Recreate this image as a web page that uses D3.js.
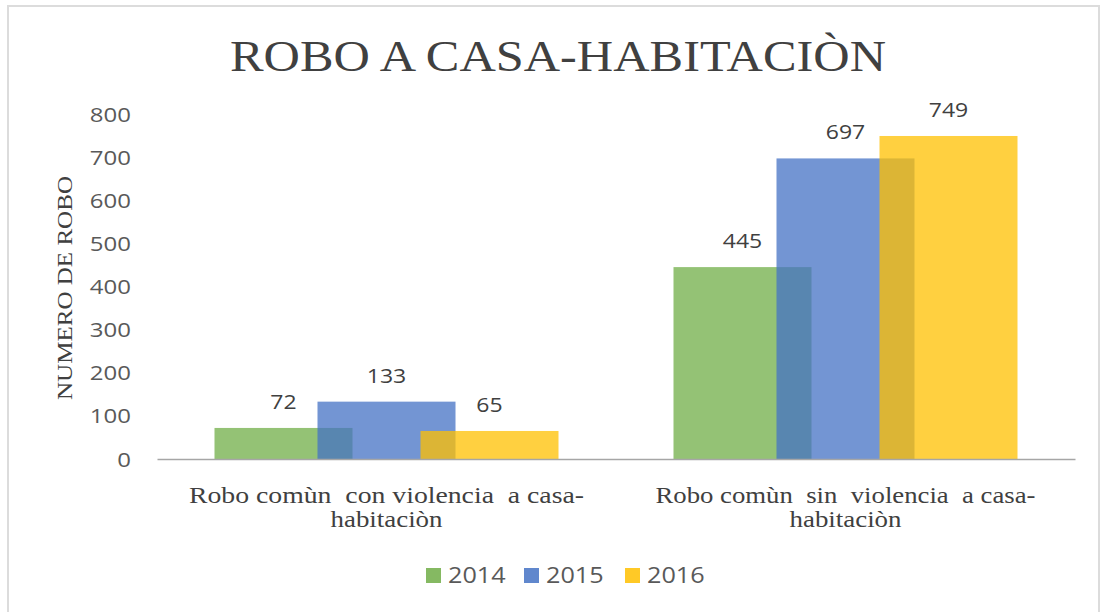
<!DOCTYPE html>
<html><head><meta charset="utf-8">
<script src="https://cdn.jsdelivr.net/npm/d3@7/dist/d3.min.js"></script>
<style>html,body{margin:0;padding:0;background:#fff;}svg{display:block;}</style>
</head><body>
<svg id="c" width="1104" height="612"></svg>
<script>
const categories = [["Robo comùn  con violencia  a casa-", "habitaciòn"], ["Robo comùn  sin  violencia  a casa-", "habitaciòn"]];
const categoryKeys = ["con", "sin"];
const seriesNames = ["2014", "2015", "2016"];
const values2014 = [72, 445];
const values2015 = [133, 697];
const values2016 = [65, 749];
const yTicks = [0, 100, 200, 300, 400, 500, 600, 700, 800];
const colors = ["#70AD47", "#4472C4", "#FFC000"];

const seriesValues = [values2014, values2015, values2016];
const svg = d3.select("#c");
const SX = 1.2; // horizontal stretch of the reference text

svg.append("rect").attr("x", 8).attr("y", 6).attr("width", 1091).attr("height", 620)
  .attr("fill", "none").attr("stroke", "#dcdcdc").attr("stroke-width", 2);

const x0 = 157, x1 = 1075, yBase = 459, yTop = 114;
const x = d3.scaleBand().domain(categoryKeys).range([x0, x1]).paddingInner(0).paddingOuter(0);
const y = d3.scaleLinear().domain([0, 800]).range([yBase, yTop]);

const barW = 138, step = 103;
const offset = i => x.bandwidth() / 2 + (i - 1) * step - barW / 2;

// y axis labels (stretched horizontally like the reference)
const yAxis = d3.axisLeft(y).tickValues(yTicks).tickSize(0).tickPadding(0);
const gy = svg.append("g").attr("transform", `translate(131,0) scale(${SX},1)`).call(yAxis);
gy.select(".domain").remove();
gy.selectAll("text").attr("font-family", "'Open Sans', sans-serif").attr("font-size", 20)
  .attr("fill", "#595959").attr("dy", "0.35em");

// bars
seriesValues.forEach((vals, i) => {
  svg.append("g").selectAll("rect").data(vals).join("rect")
    .attr("x", (d, j) => x(categoryKeys[j]) + offset(i))
    .attr("y", d => y(d))
    .attr("width", barW)
    .attr("height", d => yBase - y(d))
    .attr("fill", colors[i]).attr("fill-opacity", 0.75);
});

// baseline axis
const xAxis = d3.axisBottom(x).tickSize(0).tickFormat("");
const gx = svg.append("g").attr("transform", `translate(0,${yBase})`).call(xAxis);
gx.select(".domain").attr("stroke", "#a6a6a6").attr("stroke-width", 1.3);

// value labels
seriesValues.forEach((vals, i) => {
  const g = svg.append("g");
  g.selectAll("text").data(vals).join("text")
    .attr("transform", (d, j) => `translate(${x(categoryKeys[j]) + offset(i) + barW / 2},${y(d) - 19}) scale(1.15,1)`)
    .attr("text-anchor", "middle")
    .attr("font-family", "'Open Sans', sans-serif").attr("font-size", 20)
    .attr("fill", "#404040")
    .text(d => d);
});

// category labels
const catWidths = [[395, 112], [380, 112]];
categories.forEach((lines, j) => {
  const cx = x(categoryKeys[j]) + x.bandwidth() / 2;
  lines.forEach((ln, k) => {
    svg.append("text").attr("x", cx).attr("y", 503 + k * 24)
      .attr("text-anchor", "middle")
      .attr("font-family", "'Liberation Serif', serif").attr("font-size", 24)
      .attr("fill", "#404040").attr("xml:space", "preserve")
      .attr("textLength", catWidths[j][k]).attr("lengthAdjust", "spacingAndGlyphs")
      .text(ln);
  });
});

// title
svg.append("text").attr("x", 558).attr("y", 71).attr("text-anchor", "middle")
  .attr("font-family", "'Liberation Serif', serif").attr("font-size", 45)
  .attr("fill", "#404040").attr("textLength", 656).attr("lengthAdjust", "spacingAndGlyphs")
  .text("ROBO A CASA-HABITACIÒN");

// y title
svg.append("text").attr("transform", "translate(72,288) rotate(-90)")
  .attr("text-anchor", "middle")
  .attr("font-family", "'Liberation Serif', serif").attr("font-size", 22)
  .attr("fill", "#404040").attr("textLength", 224).attr("lengthAdjust", "spacingAndGlyphs")
  .text("NUMERO DE ROBO");

// legend
const legendX = [426, 524, 625];
seriesNames.forEach((nm, i) => {
  svg.append("rect").attr("x", legendX[i]).attr("y", 568).attr("width", 15).attr("height", 15)
    .attr("fill", colors[i]).attr("fill-opacity", 0.85);
  svg.append("text").attr("transform", `translate(${legendX[i] + 22},583) scale(${SX},1)`)
    .attr("font-family", "'Open Sans', sans-serif").attr("font-size", 21)
    .attr("fill", "#595959").text(nm);
});
</script>
</body></html>
